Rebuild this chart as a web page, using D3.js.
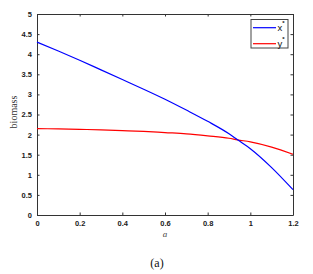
<!DOCTYPE html>
<html>
<head>
<meta charset="utf-8">
<script src="https://cdn.jsdelivr.net/npm/d3@7"></script>
<style>
  body { margin: 0; background: #fff; }
  text { font-family: "Liberation Sans", Arial, sans-serif; }
</style>
</head>
<body>
<script>
// values
var aVals = [0, 0.1, 0.2, 0.3, 0.4, 0.5, 0.6, 0.7, 0.8, 0.9, 0.94, 1.0, 1.1, 1.2];
var xStar = [4.30, 4.08, 3.85, 3.61, 3.37, 3.13, 2.88, 2.61, 2.33, 2.02, 1.87, 1.65, 1.18, 0.63];
var yStar = [2.15, 2.14, 2.13, 2.12, 2.10, 2.08, 2.05, 2.02, 1.97, 1.91, 1.87, 1.82, 1.69, 1.51];
var xTicks = [0, 0.2, 0.4, 0.6, 0.8, 1, 1.2];
var yTicks = [0, 0.5, 1, 1.5, 2, 2.5, 3, 3.5, 4, 4.5, 5];

var margin = {top: 14, right: 20, bottom: 59, left: 37},
    width = 313 - margin.left - margin.right,
    height = 274 - margin.top - margin.bottom;

var svg = d3.select("body").append("svg")
    .attr("width", 313)
    .attr("height", 274);

var g = svg.append("g")
    .attr("transform", "translate(" + margin.left + "," + margin.top + ")");

var x = d3.scaleLinear().domain([0, 1.2]).range([0, width]);
var y = d3.scaleLinear().domain([0, 5]).range([height, 0]);

var tickLen = 2.5;
var axisCol = "#333";

// axes with inward ticks, matlab style box
var xAxis = d3.axisBottom(x).tickValues(xTicks).tickSizeInner(-tickLen).tickSizeOuter(0).tickPadding(6)
    .tickFormat(d3.format("~g"));
var xAxisTop = d3.axisTop(x).tickValues(xTicks).tickSizeInner(-tickLen).tickSizeOuter(0).tickFormat("");
var yAxis = d3.axisLeft(y).tickValues(yTicks).tickSizeInner(-tickLen).tickSizeOuter(0).tickPadding(5)
    .tickFormat(d3.format("~g"));
var yAxisRight = d3.axisRight(y).tickValues(yTicks).tickSizeInner(-tickLen).tickSizeOuter(0).tickFormat("");

function styleAxis(sel) {
  sel.selectAll("path").attr("stroke", axisCol);
  sel.selectAll("line").attr("stroke", axisCol);
  sel.selectAll("text").attr("fill", "#1a1a1a").style("font-size", "7.5px")
     .style("font-weight", "bold")
     .style("font-family", "'Liberation Sans', Arial, sans-serif");
}

g.append("g").attr("transform", "translate(0," + height + ")").call(xAxis).call(styleAxis);
g.append("g").call(xAxisTop).call(styleAxis);
g.append("g").call(yAxis).call(styleAxis);
g.append("g").attr("transform", "translate(" + width + ",0)").call(yAxisRight).call(styleAxis);

var line = function(vals) {
  return d3.line()
    .x(function(d, i) { return x(aVals[i]); })
    .y(function(d) { return y(d); })
    .curve(d3.curveMonotoneX)(vals);
};

g.append("path")
    .attr("d", line(yStar))
    .attr("fill", "none")
    .attr("stroke", "#ff0000")
    .attr("stroke-width", 1.2);

g.append("path")
    .attr("d", line(xStar))
    .attr("fill", "none")
    .attr("stroke", "#0000ff")
    .attr("stroke-width", 1.2);

// legend
var leg = svg.append("g").attr("transform", "translate(251,19.5)");
leg.append("rect")
    .attr("width", 37).attr("height", 28.5)
    .attr("fill", "#fff").attr("stroke", "#444").attr("stroke-width", 1);
var legItems = [{name: "x", color: "#0000ff", dy: 8.2}, {name: "y", color: "#ff0000", dy: 24.2}];
legItems.forEach(function(it) {
  leg.append("line")
      .attr("x1", 2).attr("x2", 25)
      .attr("y1", it.dy).attr("y2", it.dy)
      .attr("stroke", it.color).attr("stroke-width", 1.2);
  var t = leg.append("text")
      .attr("x", 26.5).attr("y", it.dy + 3.5)
      .style("font-size", "9.5px").attr("fill", "#111");
  t.append("tspan").text(it.name);
  t.append("tspan").attr("dy", -6.5).style("font-size", "6px").style("font-weight", "bold").text("*");
});

// axis labels
svg.append("text")
    .attr("transform", "rotate(-90)")
    .attr("x", -112)
    .attr("y", 17)
    .attr("text-anchor", "middle")
    .style("font-family", "'Liberation Serif', 'Times New Roman', serif")
    .style("font-size", "10px")
    .attr("fill", "#333")
    .text("biomass");

svg.append("text")
    .attr("x", margin.left + width / 2)
    .attr("y", 237)
    .attr("text-anchor", "middle")
    .style("font-family", "'Liberation Serif', 'Times New Roman', serif")
    .style("font-style", "italic")
    .style("font-size", "9px")
    .attr("fill", "#444")
    .text("a");

svg.append("text")
    .attr("x", 157)
    .attr("y", 267)
    .attr("text-anchor", "middle")
    .style("font-family", "'Liberation Serif', 'Times New Roman', serif")
    .style("font-size", "12px")
    .attr("fill", "#111")
    .text("(a)");
</script>
</body>
</html>
